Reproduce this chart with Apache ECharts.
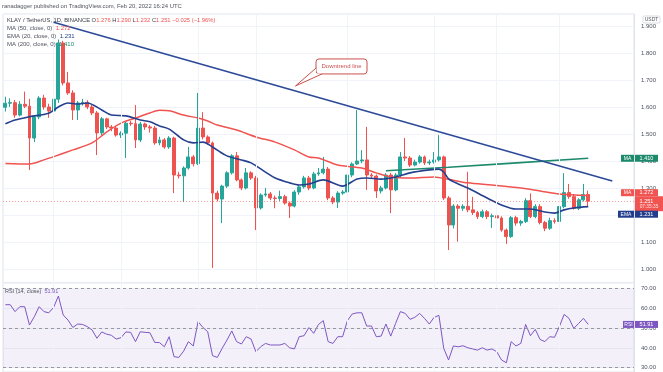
<!DOCTYPE html>
<html><head><meta charset="utf-8">
<script src="https://cdn.jsdelivr.net/npm/echarts@6/dist/echarts.min.js"></script>
<style>html,body{margin:0;padding:0;background:#fff}#c{width:663px;height:372px}</style>
</head><body><div id="c"></div>
<script>
// ---- data (KLAY/USDT daily, Oct 22 2021 - Feb 20 2022) ----
const opens = [1.599,1.614,1.616,1.570,1.610,1.603,1.485,1.563,1.633,1.600,
1.585,1.629,1.837,1.689,1.652,1.589,1.615,1.617,1.600,1.578,
1.504,1.556,1.526,1.522,1.496,1.503,1.540,1.538,1.478,1.537,
1.526,1.522,1.467,1.478,1.452,1.485,1.348,1.345,1.374,1.415,
1.390,1.522,1.489,1.467,1.281,1.259,1.307,1.356,1.419,1.330,
1.300,1.356,1.337,1.226,1.274,1.278,1.263,1.261,1.268,1.244,
1.233,1.285,1.304,1.337,1.300,1.352,1.356,1.370,1.263,1.248,
1.281,1.285,1.348,1.389,1.400,1.404,1.348,1.344,1.289,1.300,
1.348,1.293,1.348,1.415,1.411,1.385,1.396,1.415,1.393,1.396,
1.404,1.415,1.263,1.163,1.233,1.225,1.232,1.219,1.209,1.194,
1.212,1.194,1.197,1.189,1.144,1.120,1.190,1.170,1.176,1.253,
1.194,1.231,1.172,1.151,1.179,1.176,1.231,1.283,1.268,1.225,
1.256,1.276];
const closes = [1.614,1.616,1.570,1.610,1.603,1.485,1.563,1.633,1.600,1.585,
1.629,1.837,1.689,1.652,1.589,1.615,1.617,1.600,1.578,1.504,
1.556,1.526,1.522,1.496,1.503,1.540,1.538,1.478,1.537,1.526,
1.522,1.467,1.478,1.452,1.485,1.348,1.345,1.374,1.415,1.390,
1.522,1.489,1.467,1.281,1.259,1.307,1.356,1.419,1.330,1.300,
1.356,1.337,1.226,1.274,1.278,1.263,1.261,1.268,1.244,1.233,
1.285,1.304,1.337,1.300,1.352,1.356,1.370,1.263,1.248,1.281,
1.285,1.348,1.389,1.400,1.404,1.348,1.344,1.289,1.300,1.348,
1.293,1.348,1.415,1.411,1.385,1.396,1.415,1.393,1.396,1.404,
1.415,1.263,1.163,1.233,1.225,1.232,1.219,1.209,1.194,1.212,
1.194,1.197,1.189,1.144,1.120,1.190,1.170,1.176,1.253,1.194,
1.231,1.172,1.151,1.179,1.176,1.231,1.283,1.268,1.225,1.256,
1.276,1.251];
const highs = [1.638,1.632,1.626,1.622,1.657,1.630,1.570,1.640,1.645,1.612,
1.670,1.850,1.845,1.730,1.662,1.622,1.630,1.625,1.608,1.585,
1.563,1.560,1.533,1.530,1.510,1.548,1.548,1.607,1.545,1.542,
1.533,1.530,1.490,1.485,1.492,1.490,1.360,1.380,1.452,1.422,
1.652,1.581,1.495,1.472,1.290,1.312,1.362,1.425,1.433,1.335,
1.374,1.362,1.345,1.280,1.300,1.285,1.272,1.290,1.275,1.250,
1.292,1.310,1.345,1.345,1.360,1.374,1.415,1.378,1.270,1.288,
1.292,1.355,1.395,1.589,1.440,1.526,1.355,1.350,1.308,1.355,
1.356,1.355,1.433,1.485,1.418,1.405,1.422,1.420,1.405,1.433,
1.496,1.420,1.270,1.240,1.240,1.240,1.360,1.267,1.215,1.220,
1.218,1.205,1.205,1.195,1.150,1.196,1.197,1.182,1.262,1.280,
1.240,1.240,1.178,1.190,1.188,1.238,1.355,1.315,1.278,1.262,
1.315,1.290];
const lows = [1.583,1.600,1.560,1.565,1.596,1.367,1.470,1.555,1.590,1.560,
1.580,1.615,1.680,1.645,1.552,1.552,1.605,1.592,1.570,1.422,
1.495,1.518,1.510,1.490,1.485,1.411,1.530,1.448,1.470,1.515,
1.505,1.460,1.458,1.445,1.445,1.281,1.335,1.248,1.368,1.380,
1.385,1.480,1.460,1.004,1.250,1.170,1.300,1.350,1.325,1.292,
1.295,1.330,1.144,1.220,1.268,1.255,1.225,1.252,1.238,1.189,
1.228,1.275,1.298,1.292,1.295,1.345,1.350,1.255,1.240,1.226,
1.275,1.280,1.340,1.385,1.392,1.293,1.335,1.263,1.280,1.295,
1.207,1.288,1.340,1.400,1.378,1.380,1.390,1.385,1.385,1.390,
1.398,1.255,1.070,1.150,1.101,1.215,1.210,1.200,1.185,1.188,
1.185,1.152,1.180,1.138,1.093,1.115,1.160,1.160,1.170,1.188,
1.188,1.165,1.140,1.145,1.168,1.170,1.225,1.260,1.220,1.218,
1.250,1.232];
const rsiValues = [61.9,61.9,58.4,60.9,60.9,51.6,55.8,60.9,58.4,57.8,
60.5,66.3,56.7,54.1,50.4,52.1,51.9,50.8,49.1,44.9,
48.1,47.0,46.4,44.5,45.2,48.1,47.9,43.2,48.2,47.9,
47.7,42.8,42.7,40.6,45.7,35.6,35.2,38.4,43.2,41.0,
53.3,50.4,48.2,36.1,35.2,39.8,44.0,48.6,43.2,42.0,
45.7,44.5,38.1,40.6,42.3,41.5,41.5,41.5,42.3,40.1,
39.5,45.7,46.2,50.3,47.4,51.9,53.8,43.2,42.3,45.7,
45.7,53.8,57.2,57.8,57.8,51.1,51.1,45.7,46.0,52.1,
46.0,52.4,58.4,57.5,54.5,55.5,57.5,55.0,52.1,55.5,
56.5,39.8,33.9,41.0,40.6,41.1,40.1,39.5,38.9,40.1,
38.9,39.5,38.1,33.9,32.5,43.2,41.0,42.3,51.9,46.2,
49.4,44.3,43.2,45.7,45.4,50.8,57.0,55.0,49.9,52.4,
55.0,51.91];
// moving averages read as [candle index, value] points
const ema20Points = [[0,1.538],[2,1.552],[5,1.564],[9,1.577],[11,1.600],[13,1.615],[15,1.611],[17,1.615],[20,1.589],[22,1.570],[25,1.567],[28,1.552],[30,1.545],[32,1.530],[34,1.518],[37,1.478],[39,1.467],[41,1.470],[43,1.452],[46,1.419],[49,1.404],[51,1.393],[54,1.359],[56,1.337],[59,1.319],[61,1.311],[63,1.315],[66,1.330],[70,1.307],[73,1.333],[75,1.337],[78,1.333],[81,1.341],[84,1.356],[88,1.367],[90,1.370],[91,1.359],[92,1.334],[94,1.315],[96,1.300],[100,1.263],[103,1.237],[106,1.222],[109,1.222],[112,1.211],[114,1.207],[116,1.219],[118,1.226],[121,1.231]];
const ma50Points = [[0,1.391],[5,1.389],[8,1.404],[11,1.422],[14,1.441],[18,1.467],[21,1.507],[24,1.540],[27,1.559],[30,1.578],[32,1.588],[34,1.586],[37,1.570],[40,1.559],[42,1.548],[44,1.533],[48,1.515],[52,1.489],[56,1.470],[60,1.441],[63,1.415],[65,1.411],[69,1.385],[74,1.374],[77,1.356],[80,1.341],[84,1.337],[89,1.341],[92,1.332],[96,1.319],[101,1.311],[107,1.300],[111,1.289],[115,1.278],[121,1.272]];
const ma200Points = [[79,1.364],[92,1.377],[121,1.410]];
const trendPoints = [[10,1.914],[126,1.326]];
const dateGridIdx = [10,24,40,52,71,89,102,115];
const lastPrice = 1.251, ma50Last = 1.272, ema20Last = 1.231, ma200Last = 1.410, rsiLast = 51.91;
const SLOTS = 131;
const categories = [];
(function(){const d0=new Date(Date.UTC(2021,9,22));for(let i=0;i<SLOTS;i++){const d=new Date(d0.getTime()+i*86400000);categories.push(d.toISOString().slice(0,10));}})();

const FONT = 'Liberation Sans, Arial, sans-serif';
const UP = '#26a69a', DOWN = '#ef5350', NAVY = '#24408f', RED = '#f05350', GREEN = '#1e8a6c', PURPLE = '#7e57c2';
const candles = opens.map((o,i)=>[o, closes[i], lows[i], highs[i]]);

const chart = echarts.init(document.getElementById('c'), null, {renderer:'canvas'});
const gridBorder = '#e0e3eb';
chart.setOption({
  animation:false,
  backgroundColor:'#ffffff',
  grid:[
    {left:3, right:29, top:14, height:269, show:true, borderColor:gridBorder, borderWidth:1},
    {left:3, right:29, top:283, height:89, show:true, borderColor:gridBorder, borderWidth:1}
  ],
  xAxis:[
    {type:'category', gridIndex:0, data:categories, boundaryGap:true, axisLine:{show:false}, axisTick:{show:false}, axisLabel:{show:false}, splitLine:{show:false}},
    {type:'category', gridIndex:1, data:categories, boundaryGap:true, axisLine:{show:false}, axisTick:{show:false}, axisLabel:{show:false}, splitLine:{show:false}}
  ],
  yAxis:[
    {type:'value', gridIndex:0, position:'right', min:0.9481, max:1.9444, splitNumber:10, scale:true,
     axisLine:{show:true, lineStyle:{color:gridBorder}}, axisTick:{show:false},
     axisLabel:{color:'#4c525e', fontSize:6, fontFamily:FONT, margin:7, showMinLabel:false, showMaxLabel:false, formatter:v=>v.toFixed(3)},
     splitLine:{lineStyle:{color:'#f0f3fa'}}},
    {type:'value', gridIndex:1, position:'right', min:27.82, max:72.89, splitNumber:4, scale:true,
     axisLine:{show:true, lineStyle:{color:gridBorder}}, axisTick:{show:false},
     axisLabel:{color:'#4c525e', fontSize:6, fontFamily:FONT, margin:7, showMinLabel:false, showMaxLabel:false, formatter:v=>v.toFixed(2)},
     splitLine:{lineStyle:{color:'#f0f3fa'}}}
  ],
  series:[
    {type:'line', xAxisIndex:0, yAxisIndex:0, data:[], z:1, silent:true,
     markLine:{silent:true, symbol:'none', label:{show:false}, lineStyle:{color:'#f0f3fa', type:'solid', width:1},
       data: dateGridIdx.map(i=>({xAxis:i}))}},
    {type:'line', xAxisIndex:1, yAxisIndex:1, data:[], z:1, silent:true,
     markLine:{silent:true, symbol:'none', label:{show:false}, lineStyle:{color:'#f0f3fa', type:'solid', width:1},
       data: dateGridIdx.map(i=>({xAxis:i}))}},
    {type:'candlestick', xAxisIndex:0, yAxisIndex:0, data:candles, barWidth:3.4, z:3,
     itemStyle:{color:UP, color0:DOWN, borderColor:UP, borderColor0:DOWN, borderWidth:1},
     markLine:{silent:true, symbol:'none', label:{show:false}, data:[{yAxis:lastPrice}],
       lineStyle:{color:DOWN, type:[1,2], width:1, opacity:0.55}}},
    {type:'line', name:'MA200', xAxisIndex:0, yAxisIndex:0, data:ma200Points, symbol:'none', smooth:0.3, z:4,
     lineStyle:{color:GREEN, width:1.6}},
    {type:'line', name:'MA50', xAxisIndex:0, yAxisIndex:0, data:ma50Points, symbol:'none', smooth:0.3, z:4,
     lineStyle:{color:RED, width:1.5}},
    {type:'line', name:'EMA20', xAxisIndex:0, yAxisIndex:0, data:ema20Points, symbol:'none', smooth:0.3, z:4,
     lineStyle:{color:NAVY, width:1.6}},
    {type:'line', name:'Trend', xAxisIndex:0, yAxisIndex:0, data:trendPoints, symbol:'none', z:5,
     lineStyle:{color:'#2c4a98', width:1.7}},
    {type:'line', name:'RSI', xAxisIndex:1, yAxisIndex:1, data:rsiValues, symbol:'none', z:4,
     lineStyle:{color:PURPLE, width:1},
     markArea:{silent:true, itemStyle:{color:'rgba(126,87,194,0.09)'}, data:[[{yAxis:30},{yAxis:70}]]},
     markLine:{silent:true, symbol:'none', label:{show:false}, lineStyle:{color:'#9598a1', type:[3,3], width:1},
       data:[{yAxis:70},{yAxis:50},{yAxis:30}]}}
  ]
});

// ---- overlays positioned through the chart's own scales ----
const py = v => chart.convertToPixel({yAxisIndex:0}, v);
const ry = v => chart.convertToPixel({yAxisIndex:1}, v);
const t0 = chart.convertToPixel({xAxisIndex:0, yAxisIndex:0}, trendPoints[0]);
const t1 = chart.convertToPixel({xAxisIndex:0, yAxisIndex:0}, trendPoints[1]);
const g = [];
function txt(x,y,text,opt){ g.push(Object.assign({type:'text', x:x, y:y, z:100, silent:true,
  style:Object.assign({text:text, fill:'#4c525e', fontSize:6, fontFamily:FONT, align:'left', verticalAlign:'middle', textAlign:'left', textVerticalAlign:'middle'}, opt||{})})); }
function rect(x,y,w,h,fill,extra){ g.push({type:'rect', z:99, silent:true, shape:{x:x,y:y,width:w,height:h,r:(extra&&extra.r)||0}, style:Object.assign({fill:fill}, (extra&&extra.style)||{})}); }

// header
txt(2, 6, 'ranadagger published on TradingView.com, Feb 20, 2022 16:24 UTC', {fill:'#50535e', fontSize:5.9});
g.push({type:'text', x:7, y:20.5, z:100, silent:true, style:{
  text:'KLAY / TetherUS, 1D, BINANCE O{r|1.276} H{r|1.290} L{r|1.232} C{r|1.251} {r|\u22120.025 (\u22121.96%)}',
  fill:'#3a3d46', fontSize:5.8, fontFamily:FONT, align:'left', verticalAlign:'middle', textAlign:'left', textVerticalAlign:'middle',
  rich:{r:{fill:DOWN, fontSize:5.8, fontFamily:FONT}}}});
g.push({type:'text', x:7, y:28.8, z:100, silent:true, style:{text:'MA (50, close, 0)  {v|'+ma50Last.toFixed(3)+'}', fill:'#50535e', fontSize:6, fontFamily:FONT, align:'left', verticalAlign:'middle', rich:{v:{fill:RED, fontSize:6, fontFamily:FONT}}}});
g.push({type:'text', x:7, y:36.6, z:100, silent:true, style:{text:'EMA (20, close, 0)  {v|'+ema20Last.toFixed(3)+'}', fill:'#50535e', fontSize:6, fontFamily:FONT, align:'left', verticalAlign:'middle', rich:{v:{fill:NAVY, fontSize:6, fontFamily:FONT}}}});
g.push({type:'text', x:7, y:44.4, z:100, silent:true, style:{text:'MA (200, close, 0)  {v|'+ma200Last.toFixed(3)+'}', fill:'#50535e', fontSize:6, fontFamily:FONT, align:'left', verticalAlign:'middle', rich:{v:{fill:GREEN, fontSize:6, fontFamily:FONT}}}});
// USDT
rect(643, 16, 17, 7, '#ffffff', {r:1, style:{stroke:'#d1d4dc', lineWidth:0.8}});
txt(651.5, 19.6, 'USDT', {fontSize:5, align:'center', textAlign:'center', fill:'#50535e'});

// right-side tags
function tag(y, label, value, color, lx){
  rect(lx, y-3.5, 634-lx, 7, color);
  rect(635, y-3.5, 23, 7, color);
  txt((lx+634)/2, y, label, {fill:'#ffffff', fontSize:5, align:'center', textAlign:'center'});
  txt(646.5, y, value, {fill:'#ffffff', fontSize:5.5, align:'center', textAlign:'center'});
}
const yMA200 = py(ma200Last);
tag(yMA200, 'MA', ma200Last.toFixed(3), GREEN, 621);
const yLast = py(lastPrice);
rect(635, yLast-5, 28, 15, '#f05350');
txt(646.5, yLast+0.3, lastPrice.toFixed(3), {fill:'#ffffff', fontSize:5.5, align:'center', textAlign:'center'});
txt(649, yLast+5.8, '07:35:35', {fill:'#ffe3e2', fontSize:4.8, align:'center', textAlign:'center'});
tag(yLast-8.5, 'MA', ma50Last.toFixed(3), '#f05350', 621);
tag(yLast+13, 'EMA', ema20Last.toFixed(3), '#213d8c', 618);
// RSI
const yR = ry(rsiLast);
tag(yR, 'RSI', rsiLast.toFixed(2), PURPLE, 623);
g.push({type:'text', x:5, y:291, z:100, silent:true, style:{text:'RSI (14, close)  {v|'+rsiLast.toFixed(2)+'}', fill:'#50535e', fontSize:5.5, fontFamily:FONT, align:'left', verticalAlign:'middle', rich:{v:{fill:PURPLE, fontSize:5.5, fontFamily:FONT}}}});

// "Downtrend line" callout pointing at the trendline
const tipX = t0[0] + (t1[0]-t0[0]) * 0.433;
const tipY = t0[1] + (t1[1]-t0[1]) * 0.433 - 5;
const bx = tipX + 20.5, by = tipY - 27;
const CAL = '#c9504c';
rect(bx, by, 51, 15, '#ffffff', {r:3, style:{stroke:CAL, lineWidth:1}});
g.push({type:'polygon', z:100, silent:true, shape:{points:[[tipX,tipY],[bx,by+9],[bx,by+14.5],[bx+6,by+14.5]]}, style:{fill:'#ffffff'}});
g.push({type:'polyline', z:100, silent:true, shape:{points:[[bx+0.2,by+9],[tipX,tipY],[bx+6,by+15]]}, style:{stroke:CAL, lineWidth:1, fill:null}});
txt(bx+25.5, by+7.5, 'Downtrend line', {fill:'#c9504c', fontSize:6, align:'center', textAlign:'center'});

chart.setOption({graphic:{elements:g}});
</script></body></html>
